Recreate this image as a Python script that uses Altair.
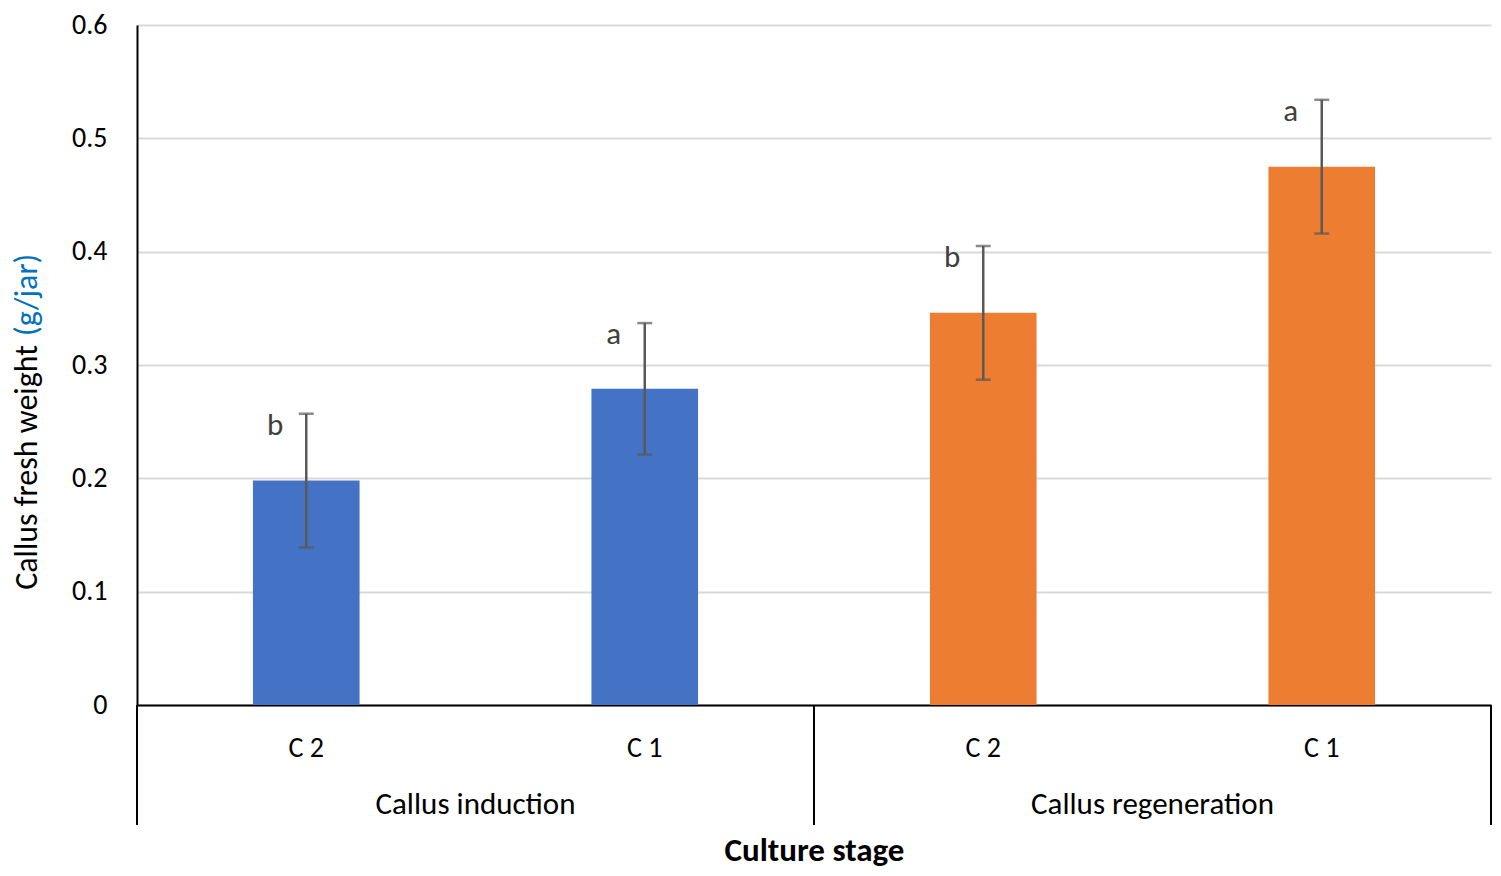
import altair as alt
import pandas as pd

stages = ["Callus induction", "Callus induction", "Callus regeneration", "Callus regeneration"]
treatments = ["C 2", "C 1", "C 2", "C 1"]
means = [0.198, 0.279, 0.346, 0.475]
errors = [0.059, 0.058, 0.059, 0.059]
letters = ["b", "a", "b", "a"]
colors = ["#4472C4", "#4472C4", "#ED7D31", "#ED7D31"]
group_names = ["Callus induction", "Callus regeneration"]

keys = [f"{s}|{t}" for s, t in zip(stages, treatments)]
df = pd.DataFrame({
    "key": keys, "stage": stages, "treat": treatments, "mean": means,
    "lower": [m - e for m, e in zip(means, errors)],
    "upper": [m + e for m, e in zip(means, errors)],
    "letter": letters, "color": colors,
})

FONT = "Carlito, Lato"
H = 680
xscale = alt.Scale(domain=keys, paddingInner=0, paddingOuter=0)
yscale = alt.Scale(domain=[0, 0.6], nice=False)

x_axis = alt.Axis(
    labelExpr="split(datum.label, '|')[1]", ticks=False, grid=False,
    domainColor="black", domainWidth=2, labelAngle=0, labelFontSize=28,
    labelFont=FONT, labelColor="black", labelPadding=29,
    title="Culture stage", titleFont=FONT, titleFontSize=33, titleFontWeight="bold",
    titleColor="black", titleY=145, titleBaseline="middle",
)
y_axis = alt.Axis(
    values=[0, 0.1, 0.2, 0.3, 0.4, 0.5, 0.6], format="~g", ticks=False,
    domainColor="black", domainWidth=2, gridColor="#d9d9d9", gridWidth=2,
    labelFontSize=28, labelFont=FONT, labelColor="black", labelPadding=30,
    title=None,
)

base = alt.Chart(df)
bars = base.mark_bar(width={"band": 0.315}).encode(
    x=alt.X("key:N", scale=xscale, axis=x_axis, sort=keys),
    y=alt.Y("mean:Q", scale=yscale, axis=y_axis),
    color=alt.Color("color:N", scale=None),
)
err = base.mark_rule(color="#595959", strokeWidth=2.5).encode(
    x=alt.X("key:N", sort=keys), y="lower:Q", y2="upper:Q")
cap_lo = base.mark_tick(color="#595959", thickness=2.5, size=15).encode(
    x=alt.X("key:N", sort=keys), y="lower:Q")
cap_hi = base.mark_tick(color="#595959", thickness=2.5, size=15).encode(
    x=alt.X("key:N", sort=keys), y="upper:Q")
lett = base.mark_text(font=FONT, fontSize=31, color="#404040", dx=-31, dy=21,
                      baseline="alphabetic").encode(
    x=alt.X("key:N", sort=keys), y="upper:Q", text="letter:N")

gdf = pd.DataFrame({"name": group_names,
                    "start": [keys[0], keys[2]],
                    "mid": [keys[1], keys[3]]})
glabels = alt.Chart(gdf).mark_text(font=FONT, fontSize=31, color="black",
                                   baseline="middle").encode(
    x=alt.X("mid:N", bandPosition=0), y=alt.value(H + 100), text="name:N")
dividers = alt.Chart(gdf).mark_rule(color="black", strokeWidth=2).encode(
    x=alt.X("start:N", bandPosition=0), y=alt.value(H), y2=alt.value(H + 120))
right_div = alt.Chart(pd.DataFrame({"k": [keys[-1]]})).mark_rule(
    color="black", strokeWidth=2).encode(
    x=alt.X("k:N", bandPosition=1), y=alt.value(H), y2=alt.value(H + 120))

ytitle_a = alt.Chart(pd.DataFrame({"t": ["Callus fresh weight"]})).mark_text(
    font=FONT, fontSize=32, color="black", angle=270, align="right",
    baseline="middle").encode(x=alt.value(-110), y=alt.value(320), text="t:N")
ytitle_b = alt.Chart(pd.DataFrame({"t": ["(g/jar)"]})).mark_text(
    font=FONT, fontSize=32, color="#0070C0", angle=270, align="left",
    baseline="middle").encode(x=alt.value(-110), y=alt.value(311), text="t:N")

chart = alt.layer(bars, err, cap_lo, cap_hi, lett, glabels, dividers, right_div,
                  ytitle_a, ytitle_b).properties(
    width=1354, height=H,
    autosize=alt.AutoSizeParams(type="none"),
    padding={"left": 129, "top": 17, "right": 2, "bottom": 163},
).configure_view(stroke=None)

chart.save("out.html", embed_options={"renderer": "svg", "actions": False})
